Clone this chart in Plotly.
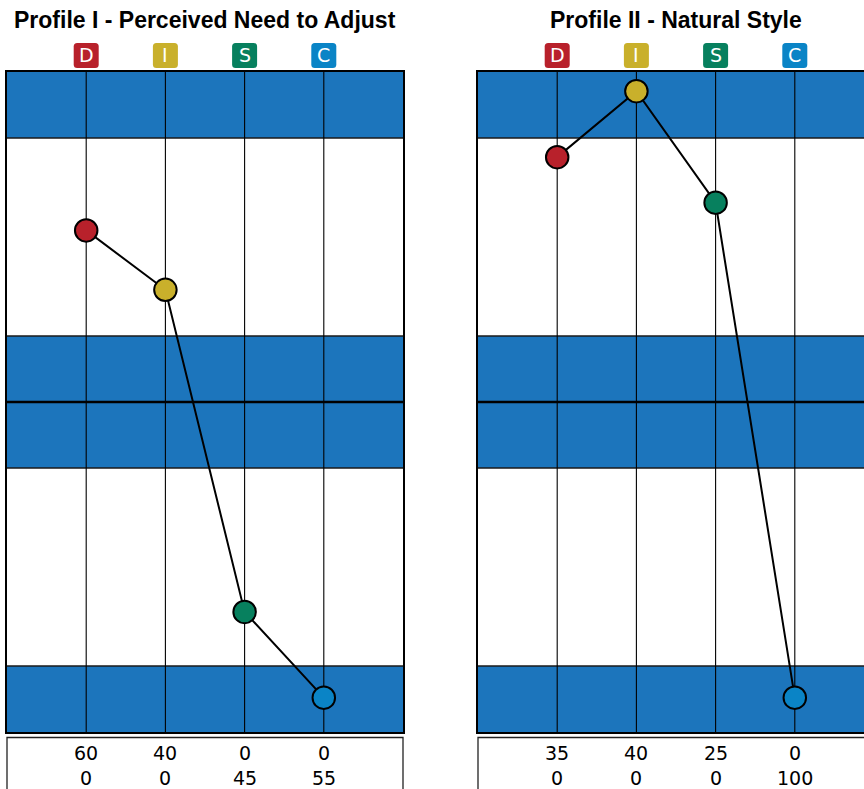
import plotly.graph_objects as go

# ---- data ----
disc_letters = ["D", "I", "S", "C"]
disc_colors = ["#B8212B", "#C9B02B", "#07805E", "#0A84C6"]
titles = ["Profile I - Perceived Need to Adjust", "Profile II - Natural Style"]
# plotted graph positions (0-10 scale)
profile1_pos = [7.6, 6.7, 1.82, 0.52]
profile2_pos = [8.71, 9.71, 8.02, 0.52]
profile1_row1 = ["60", "40", "0", "0"]
profile1_row2 = ["0", "0", "45", "55"]
profile2_row1 = ["35", "40", "25", "0"]
profile2_row2 = ["0", "0", "0", "100"]

BAND = "#1C75BC"
W, H = 864, 789
COLW = 79.2  # px per x unit

fig = go.Figure()

xs = [1, 2, 3, 4]
panels = [
    dict(xa="x", ya="y", pos=profile1_pos, r1=profile1_row1, r2=profile1_row2, x0px=7),
    dict(xa="x2", ya="y2", pos=profile2_pos, r1=profile2_row1, r2=profile2_row2, x0px=478),
]

top_px, bot_px = 72, 732
ydom = [(H - bot_px) / H, (H - top_px) / H]

shapes = []
annotations = []

for i, p in enumerate(panels):
    xa, ya = p["xa"], p["ya"]
    # bands
    for (a, b) in [(0, 1), (4, 6), (9, 10)]:
        shapes.append(dict(type="rect", xref=xa, yref=ya, x0=0, x1=5, y0=a, y1=b,
                           fillcolor=BAND, line=dict(width=0), layer="below"))
    # horizontal band lines
    for yv in [1, 4, 6, 9]:
        shapes.append(dict(type="line", xref=xa, yref=ya, x0=0, x1=5, y0=yv, y1=yv,
                           line=dict(color="#1a1a1a", width=1.3), layer="below"))
    shapes.append(dict(type="line", xref=xa, yref=ya, x0=0, x1=5, y0=5, y1=5,
                       line=dict(color="black", width=2.6), layer="below"))
    # vertical lines
    for xv in xs:
        shapes.append(dict(type="line", xref=xa, yref=ya, x0=xv, x1=xv, y0=0, y1=10,
                           line=dict(color="black", width=1.1), layer="below"))
    # trace
    fig.add_trace(go.Scatter(
        x=xs, y=p["pos"], xaxis=xa, yaxis=ya, mode="lines+markers",
        line=dict(color="black", width=2),
        marker=dict(size=22.5, color=disc_colors, line=dict(color="black", width=2)),
        showlegend=False, hoverinfo="skip", cliponaxis=False))
    # title
    annotations.append(dict(text="<b>" + titles[i] + "</b>", xref=xa, yref="paper",
                            x=2.5, y=(H - 20) / H, showarrow=False, xanchor="center",
                            yanchor="middle",
                            font=dict(family="Liberation Sans, Arial", size=23, color="black")))
    # DISC badges
    bw, bh, r = 25 / COLW, 25 / H, 3.5
    rx, ry = r / COLW, r / H
    yc = (H - 55.5) / H
    for k, xv in enumerate(xs):
        xl, xr = xv - bw / 2, xv + bw / 2
        yb, yt = yc - bh / 2, yc + bh / 2
        path = (f"M {xl+rx},{yb} L {xr-rx},{yb} Q {xr},{yb} {xr},{yb+ry} "
                f"L {xr},{yt-ry} Q {xr},{yt} {xr-rx},{yt} L {xl+rx},{yt} "
                f"Q {xl},{yt} {xl},{yt-ry} L {xl},{yb+ry} Q {xl},{yb} {xl+rx},{yb} Z")
        shapes.append(dict(type="path", xref=xa, yref="paper", path=path,
                           fillcolor=disc_colors[k], line=dict(width=0)))
        annotations.append(dict(text=disc_letters[k], xref=xa, yref="paper", x=xv, y=yc,
                                showarrow=False, xanchor="center", yanchor="middle",
                                font=dict(family="DejaVu Sans", size=19, color="white")))
        annotations.append(dict(text=p["r1"][k], xref=xa, yref="paper", x=xv,
                                y=(H - 753) / H, showarrow=False, xanchor="center",
                                yanchor="middle",
                                font=dict(family="DejaVu Sans", size=19, color="black")))
        annotations.append(dict(text=p["r2"][k], xref=xa, yref="paper", x=xv,
                                y=(H - 778) / H, showarrow=False, xanchor="center",
                                yanchor="middle",
                                font=dict(family="DejaVu Sans", size=19, color="black")))
    # table box
    x0p = p["x0px"]
    shapes.append(dict(type="rect", xref="paper", yref="paper",
                       x0=x0p / W, x1=(x0p + 5 * COLW) / W, y0=-0.1, y1=(H - 737.5) / H,
                       line=dict(color="#222", width=1.3), fillcolor="rgba(0,0,0,0)"))

axis_common = dict(showgrid=False, zeroline=False, showticklabels=False, ticks="",
                   fixedrange=True)

fig.update_layout(
    width=W, height=H, margin=dict(l=0, r=0, t=0, b=0),
    paper_bgcolor="white", plot_bgcolor="white",
    xaxis=dict(domain=[7 / W, (7 + 5 * COLW) / W], range=[0, 5], anchor="y",
               showline=True, mirror=True, linecolor="black", linewidth=1.5, **axis_common),
    yaxis=dict(domain=ydom, range=[0, 10], anchor="x",
               showline=True, mirror=True, linecolor="black", linewidth=1.5, **axis_common),
    xaxis2=dict(domain=[478 / W, 1], range=[0, (W - 478) / COLW], anchor="y2",
                showline=True, mirror=True, linecolor="black", linewidth=1.5, **axis_common),
    yaxis2=dict(domain=ydom, range=[0, 10], anchor="x2",
                showline=True, mirror=False, linecolor="black", linewidth=1.5, **axis_common),
    shapes=shapes, annotations=annotations,
)

fig.write_html("out.html", config={"displayModeBar": False},
               post_script="document.body.style.margin='0';document.body.style.overflow='hidden';")
